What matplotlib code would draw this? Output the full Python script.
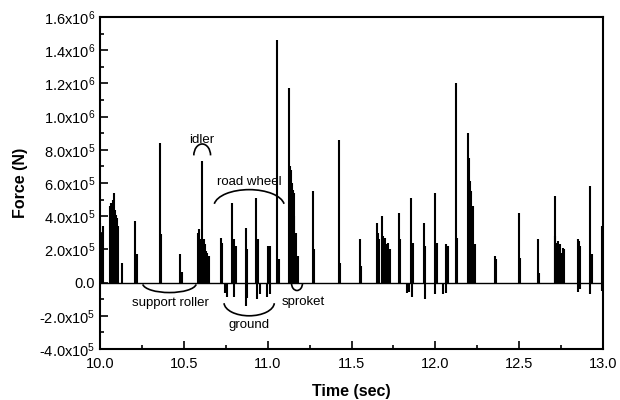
import numpy as np
import matplotlib as mpl
mpl.use('Agg')
import matplotlib.pyplot as plt
from matplotlib.patches import Arc

# positive force spikes: time (s) and peak (x1e5 N)
pos_t = [10.00, 10.008, 10.015, 10.02, 10.062, 10.066, 10.072, 10.078, 10.083, 10.09, 10.095,
         10.10, 10.11, 10.13, 10.21, 10.22, 10.36, 10.365, 10.48, 10.49,
         10.585, 10.59, 10.595, 10.608, 10.615, 10.62, 10.625, 10.635, 10.64, 10.65,
         10.72, 10.73, 10.79, 10.80, 10.81, 10.87, 10.88, 10.93, 10.945, 11.00, 11.015,
         11.055, 11.065, 11.13, 11.135, 11.14, 11.145, 11.15, 11.155, 11.16, 11.17, 11.18,
         11.27, 11.275, 11.425, 11.43, 11.55, 11.555,
         11.65, 11.657, 11.665, 11.68, 11.688, 11.695, 11.70, 11.71, 11.72, 11.73,
         11.78, 11.79, 11.855, 11.865, 11.93, 11.94, 12.00, 12.01, 12.065, 12.075,
         12.123, 12.13, 12.195, 12.20, 12.205, 12.21, 12.215, 12.225, 12.235,
         12.355, 12.36, 12.50, 12.505, 12.61, 12.615,
         12.71, 12.715, 12.72, 12.728, 12.735, 12.742, 12.75, 12.758, 12.765,
         12.85, 12.855, 12.86, 12.92, 12.93, 12.995]
pos_f = [3.6, 2.8, 3.0, 3.4, 4.6, 4.8, 4.6, 5.0, 5.4, 4.4, 4.1,
         3.9, 3.4, 1.2, 3.7, 1.7, 8.4, 2.9, 1.75, 0.66,
         3.0, 3.2, 2.6, 7.3, 2.4, 2.6, 2.3, 1.9, 1.8, 1.6,
         2.7, 2.4, 4.8, 2.6, 2.2, 3.3, 2.0, 5.1, 2.6, 2.2, 2.2,
         14.6, 1.4, 11.7, 7.0, 6.8, 6.0, 5.6, 5.4, 4.0, 3.0, 1.6,
         5.5, 2.0, 8.6, 1.2, 2.6, 1.0,
         3.6, 3.0, 2.6, 4.0, 2.8, 2.5, 2.7, 2.3, 2.4, 2.0,
         4.2, 2.6, 5.1, 2.4, 3.6, 2.2, 5.4, 2.4, 2.3, 2.2,
         12.0, 2.7, 9.0, 7.5, 6.1, 5.5, 4.6, 4.6, 2.3,
         1.6, 1.4, 4.2, 1.5, 2.6, 0.6,
         5.2, 2.8, 2.4, 2.5, 2.2, 2.3, 1.8, 2.1, 2.0,
         2.6, 2.5, 2.2, 5.8, 1.7, 3.4]

# negative (ground contact) force spikes
neg_t = [10.745, 10.755, 10.80, 10.87, 10.875, 10.935, 10.955, 10.995, 11.015,
         11.83, 11.84, 11.86, 11.935, 12.00, 12.045, 12.06,
         12.85, 12.86, 12.92, 12.995]
neg_f = [-0.6, -0.85, -0.85, -1.4, -0.9, -1.0, -0.7, -0.85, -0.7,
         -0.6, -0.55, -0.85, -1.0, -0.7, -0.7, -0.6,
         -0.55, -0.4, -0.7, -0.5]

yticks = [-4, -2, 0, 2, 4, 6, 8, 10, 12, 14, 16]
ytick_labels = ['-4.0x10$^5$', '-2.0x10$^5$', '0.0', '2.0x10$^5$', '4.0x10$^5$', '6.0x10$^5$',
                '8.0x10$^5$', '1.0x10$^6$', '1.2x10$^6$', '1.4x10$^6$', '1.6x10$^6$']
xticks = [10.0, 10.5, 11.0, 11.5, 12.0, 12.5, 13.0]

plt.rcParams['font.family'] = ['Liberation Sans', 'DejaVu Sans']
plt.rcParams['mathtext.default'] = 'regular'

fig = plt.figure(figsize=(6.2, 4.0), dpi=100)
ax = fig.add_axes([0.161, 0.1275, 0.812, 0.83])

ax.axhline(0, color='black', lw=1.0, zorder=1)
ax.vlines(pos_t, 0, pos_f, color='black', lw=1.5)
ax.vlines(neg_t, 0, neg_f, color='black', lw=1.5)

ax.set_xlim(10.0, 13.0)
ax.set_ylim(-4, 16)
ax.set_xticks(xticks)
ax.set_xticklabels(['%.1f' % t for t in xticks])
ax.set_yticks(yticks)
ax.set_yticklabels(ytick_labels)
ax.set_xticks(np.arange(10.0, 13.01, 0.25), minor=True)
ax.set_yticks(np.arange(-4, 16.1, 1), minor=True)
ax.tick_params(which='both', direction='in', labelsize=10.5, width=1.2)
ax.tick_params(which='major', length=6)
ax.tick_params(which='minor', length=3)
ax.tick_params(axis='x', pad=6)
for s in ax.spines.values():
    s.set_linewidth(1.5)

ax.set_xlabel('Time (sec)', fontsize=11.5, fontweight='bold', labelpad=9)
ax.set_ylabel('Force (N)', fontsize=11.5, fontweight='bold', labelpad=8)

# annotations
kw = dict(fontsize=9.5, ha='center', va='center')
ax.text(10.608, 8.6, 'idler', **kw)
ax.add_patch(Arc((10.61, 7.65), 0.10, 1.4, theta1=15, theta2=165, lw=1.2))
ax.text(10.89, 6.05, 'road wheel', **kw)
ax.add_patch(Arc((10.89, 4.6), 0.42, 2.0, theta1=35, theta2=145, lw=1.2))
ax.text(10.42, -1.2, 'support roller', **kw)
ax.add_patch(Arc((10.415, -0.05), 0.32, 1.1, theta1=200, theta2=340, lw=1.2))
ax.text(10.89, -2.55, 'ground', **kw)
ax.add_patch(Arc((10.89, -1.2), 0.30, 1.6, theta1=195, theta2=345, lw=1.2))
ax.text(11.21, -1.15, 'sproket', **kw)
ax.add_patch(Arc((11.175, -0.05), 0.065, 0.85, theta1=180, theta2=360, lw=1.2))

fig.savefig('out.png', dpi=100)
